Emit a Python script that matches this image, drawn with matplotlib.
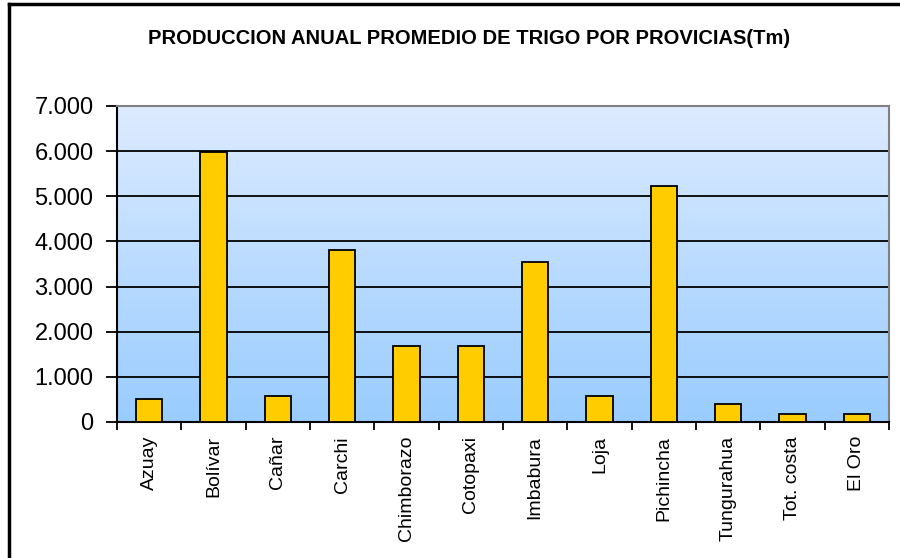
import matplotlib.pyplot as plt
import numpy as np
from matplotlib.lines import Line2D

# data
provincias = ['Azuay', 'Bolívar', 'Cañar', 'Carchi', 'Chimborazo', 'Cotopaxi',
              'Imbabura', 'Loja', 'Pichincha', 'Tungurahua', 'Tot. costa', 'El Oro']
produccion = [500, 5980, 580, 3810, 1690, 1690, 3550, 580, 5230, 400, 180, 180]
yticks = [0, 1000, 2000, 3000, 4000, 5000, 6000, 7000]
ylabels = ['0', '1.000', '2.000', '3.000', '4.000', '5.000', '6.000', '7.000']

plt.rcParams['font.family'] = ['Liberation Sans', 'DejaVu Sans']

fig = plt.figure(figsize=(9, 5.58), dpi=100)
ax = fig.add_axes([117 / 900, 136 / 558, 772 / 900, 316 / 558])

# gradient background
top = np.array([221, 235, 255]) / 255
bot = np.array([153, 204, 255]) / 255
t = np.linspace(0, 1, 256)[:, None]
grad = (top * (1 - t) + bot * t)[:, None, :]
ax.imshow(grad, extent=[-0.5, 11.5, 0, 7000], aspect='auto', zorder=0,
          origin='upper', interpolation='bilinear')

x = np.arange(len(provincias))
ax.bar(x, produccion, width=0.41, color='#FFCC00', edgecolor='black',
       linewidth=1.3, zorder=3)

ax.set_xlim(-0.5, 11.5)
ax.set_ylim(0, 7000)
ax.set_yticks(yticks)
ax.set_yticklabels(ylabels, fontsize=17)
for v in yticks[1:-1]:
    ax.axhline(v, color='black', lw=1.3, zorder=2)

ax.set_xticks(x)
ax.set_xticklabels(provincias, rotation=90, fontsize=14, va='top')
ax.set_xticks(np.arange(-0.5, 12, 1), minor=True)
ax.tick_params(axis='x', which='major', length=0, pad=10)
ax.tick_params(axis='x', which='minor', length=6, width=1.3, direction='out')
ax.tick_params(axis='y', length=8, width=1.3, pad=9)

ax.spines['left'].set_linewidth(1.5)
ax.spines['bottom'].set_linewidth(1.5)
ax.spines['top'].set_color('#808080')
ax.spines['right'].set_color('#808080')
ax.spines['top'].set_linewidth(1.5)
ax.spines['right'].set_linewidth(1.5)

fig.text(469 / 900, 1 - 38 / 558, 'PRODUCCION ANUAL PROMEDIO DE TRIGO POR PROVICIAS(Tm)',
         ha='center', va='center', fontsize=14.5, fontweight='bold')

# outer border (only top and left edges visible)
fig.add_artist(Line2D([8.5 / 900, 8.5 / 900], [0, 1 - 4 / 558], color='black', lw=2.5,
                      transform=fig.transFigure))
fig.add_artist(Line2D([8.5 / 900, 1], [1 - 4 / 558, 1 - 4 / 558], color='black', lw=2.5,
                      transform=fig.transFigure))

fig.savefig('out.png', dpi=100)
